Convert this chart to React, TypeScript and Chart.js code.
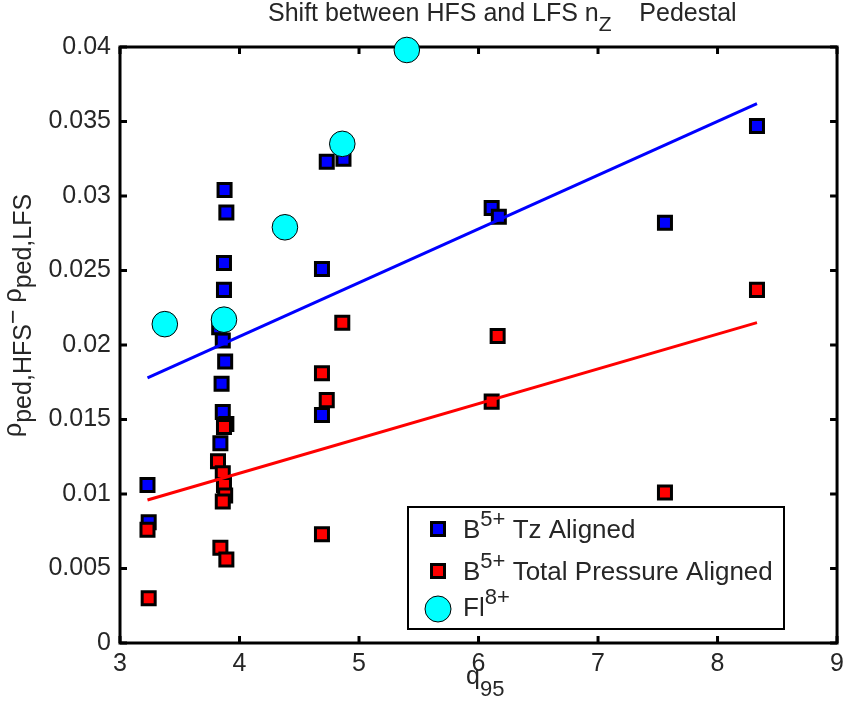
import React, { useEffect, useRef } from "react";
import { Chart, registerables } from "chart.js";

Chart.register(...registerables);

// ---- data ----
const xTicks = [3, 4, 5, 6, 7, 8, 9];
const yTicks = [0, 0.005, 0.01, 0.015, 0.02, 0.025, 0.03, 0.035, 0.04];
const yTickLabels = ["0", "0.005", "0.01", "0.015", "0.02", "0.025", "0.03", "0.035", "0.04"];

const tzX = [3.23, 3.24, 3.84, 3.86, 3.85, 3.88, 3.86, 3.83, 3.87, 3.87, 3.89, 3.875, 4.69, 4.69, 4.73, 4.87, 6.11, 6.17, 7.56, 8.33];
const tzY = [0.0106, 0.0081, 0.0134, 0.0155, 0.0174, 0.0189, 0.0203, 0.0212, 0.0237, 0.0255, 0.0289, 0.0304, 0.0153, 0.0251, 0.0323, 0.0325, 0.0292, 0.0286, 0.0282, 0.0347];

const tpX = [3.23, 3.24, 3.82, 3.86, 3.87, 3.88, 3.86, 3.84, 3.89, 3.89, 3.87, 4.69, 4.73, 4.69, 4.86, 6.11, 6.16, 7.56, 8.33];
const tpY = [0.0076, 0.0030, 0.0122, 0.0114, 0.0106, 0.0099, 0.0095, 0.0064, 0.0056, 0.0147, 0.0145, 0.0181, 0.0163, 0.0073, 0.0215, 0.0162, 0.0206, 0.0101, 0.0237];

const flX = [3.375, 3.87, 4.38, 4.86, 5.4];
const flY = [0.0214, 0.0217, 0.0279, 0.0335, 0.0398];

const tzFitX = [3.23, 8.33];
const tzFitY = [0.0178, 0.0362];
const tpFitX = [3.23, 8.33];
const tpFitY = [0.0096, 0.0215];

const titleParts = [
  { t: "Shift between HFS and LFS n" },
  { t: "Z", sub: true },
  { t: "    Pedestal" },
];
const xLabelParts = [{ t: "q" }, { t: "95", sub: true }];
const yLabelParts = [
  { t: "\u03C1" },
  { t: "ped,HFS", sub: true },
  { t: "\u2212 " },
  { t: "\u03C1" },
  { t: "ped,LFS", sub: true },
];
const legendRows = [
  [{ t: "B" }, { t: "5+", sup: true }, { t: " Tz Aligned" }],
  [{ t: "B" }, { t: "5+", sup: true }, { t: " Total Pressure Aligned" }],
  [{ t: "Fl" }, { t: "8+", sup: true }],
];

const FAMILY = '"Liberation Sans", Arial, Helvetica, sans-serif';
const TXT = "#262626";
const BLUE = "#0000ff";
const RED = "#ff0000";
const CYAN = "#00ffff";

function pts(xs: number[], ys: number[]) {
  return xs.map((x, i) => ({ x, y: ys[i] }));
}

type Part = { t: string; sub?: boolean; sup?: boolean };

function drawParts(
  ctx: CanvasRenderingContext2D,
  parts: Part[],
  x: number,
  y: number,
  size: number,
  small: number,
  subDy: number,
  supDy: number
) {
  let cx = x;
  for (const p of parts) {
    const s = p.sub || p.sup ? small : size;
    ctx.font = `${s}px ${FAMILY}`;
    const dy = p.sub ? subDy : p.sup ? -supDy : 0;
    ctx.fillText(p.t, cx, y + dy);
    cx += ctx.measureText(p.t).width;
  }
  return cx;
}

const framePlugin = {
  id: "frame",
  beforeDatasetsDraw(chart: any) {
    const { ctx, chartArea, scales } = chart;
    const { left, right, top, bottom } = chartArea;
    ctx.save();
    ctx.strokeStyle = "#000";
    ctx.lineWidth = 3;
    ctx.lineCap = "butt";
    ctx.strokeRect(left, top, right - left, bottom - top);
    const tl = 7;
    ctx.beginPath();
    for (const v of xTicks) {
      const px = scales.x.getPixelForValue(v);
      ctx.moveTo(px, bottom);
      ctx.lineTo(px, bottom - tl);
      ctx.moveTo(px, top);
      ctx.lineTo(px, top + tl);
    }
    for (const v of yTicks) {
      const py = scales.y.getPixelForValue(v);
      ctx.moveTo(left, py);
      ctx.lineTo(left + tl, py);
      ctx.moveTo(right, py);
      ctx.lineTo(right - tl, py);
    }
    ctx.stroke();
    ctx.restore();
  },
  afterDraw(chart: any) {
    const { ctx } = chart;
    ctx.save();
    ctx.fillStyle = TXT;
    ctx.textBaseline = "alphabetic";
    ctx.textAlign = "left";

    // title
    drawParts(ctx, titleParts, 268, 21, 25, 21, 10, 0);

    // x label
    drawParts(ctx, xLabelParts, 466, 684, 25, 22, 12, 0);

    // y label
    ctx.save();
    ctx.translate(21, 437);
    ctx.rotate(-Math.PI / 2);
    drawParts(ctx, yLabelParts, 0, 0, 25, 25, 10, 0);
    ctx.restore();

    // legend
    const lx = 408, ly = 507, lw = 376, lh = 122;
    ctx.fillStyle = "#fff";
    ctx.fillRect(lx, ly, lw, lh);
    ctx.strokeStyle = "#000";
    ctx.lineWidth = 2;
    ctx.strokeRect(lx, ly, lw, lh);

    const mx = 438;
    const rowY = [529, 571, 609];
    const sq = 13;
    ctx.lineWidth = 3;
    [BLUE, RED].forEach((c, i) => {
      ctx.fillStyle = c;
      ctx.fillRect(mx - sq / 2, rowY[i] - sq / 2, sq, sq);
      ctx.strokeRect(mx - sq / 2, rowY[i] - sq / 2, sq, sq);
    });
    ctx.beginPath();
    ctx.arc(mx, rowY[2], 13, 0, Math.PI * 2);
    ctx.fillStyle = CYAN;
    ctx.fill();
    ctx.lineWidth = 1;
    ctx.stroke();

    ctx.fillStyle = TXT;
    const baselines = [538, 580, 616];
    legendRows.forEach((row, i) => {
      drawParts(ctx, row, 463, baselines[i], 26, 22, 0, 12);
    });
    ctx.restore();
  },
};

export default function App() {
  const ref = useRef<HTMLCanvasElement | null>(null);
  useEffect(() => {
    document.body.style.margin = "0";
    const canvas = ref.current;
    if (!canvas) return;
    const tickFont = { family: FAMILY, size: 25 };
    const chart = new Chart(canvas, {
      type: "scatter",
      data: {
        datasets: [
          {
            label: "B5+ Tz Aligned",
            data: pts(tzX, tzY),
            pointStyle: "rect",
            pointRadius: 9.2,
            pointBackgroundColor: BLUE,
            pointBorderColor: "#000",
            pointBorderWidth: 3,
            showLine: false,
            order: 4,
            clip: false,
          } as any,
          {
            label: "B5+ Total Pressure Aligned",
            data: pts(tpX, tpY),
            pointStyle: "rect",
            pointRadius: 9.2,
            pointBackgroundColor: RED,
            pointBorderColor: "#000",
            pointBorderWidth: 3,
            showLine: false,
            order: 3,
            clip: false,
          },
          {
            label: "Fl8+",
            data: pts(flX, flY),
            pointStyle: "circle",
            pointRadius: 12.8,
            pointBackgroundColor: CYAN,
            pointBorderColor: "#000",
            pointBorderWidth: 1,
            showLine: false,
            order: 2,
            clip: false,
          },
          {
            label: "Tz fit",
            data: pts(tzFitX, tzFitY),
            showLine: true,
            borderColor: BLUE,
            borderWidth: 3,
            pointRadius: 0,
            order: 1,
          },
          {
            label: "Total pressure fit",
            data: pts(tpFitX, tpFitY),
            showLine: true,
            borderColor: RED,
            borderWidth: 3,
            pointRadius: 0,
            order: 0,
          },
        ],
      },
      options: {
        animation: false,
        responsive: false,
        events: [],
        layout: { autoPadding: false, padding: { top: 47, right: 10, left: 0, bottom: 0 } },
        plugins: {
          legend: { display: false },
          tooltip: { enabled: false },
          title: { display: false },
        },
        scales: {
          x: {
            type: "linear",
            min: 3,
            max: 9,
            grid: { display: false, drawTicks: false },
            border: { display: false },
            ticks: { font: tickFont, color: TXT, padding: 6, maxRotation: 0, autoSkip: false },
            afterBuildTicks: (s: any) => {
              s.ticks = xTicks.map((v) => ({ value: v }));
            },
            afterFit: (s: any) => {
              s.height = 59;
            },
          },
          y: {
            type: "linear",
            min: 0,
            max: 0.04,
            grid: { display: false, drawTicks: false },
            border: { display: false },
            ticks: {
              font: tickFont,
              color: TXT,
              padding: 9,
              autoSkip: false,
              callback: (_v: any, i: number) => yTickLabels[i],
            },
            afterBuildTicks: (s: any) => {
              s.ticks = yTicks.map((v) => ({ value: v }));
            },
            afterFit: (s: any) => {
              s.width = 120;
            },
          },
        },
      },
      plugins: [framePlugin],
    });
    return () => chart.destroy();
  }, []);
  return <canvas ref={ref} width={850} height={702} style={{ display: "block" }} />;
}
